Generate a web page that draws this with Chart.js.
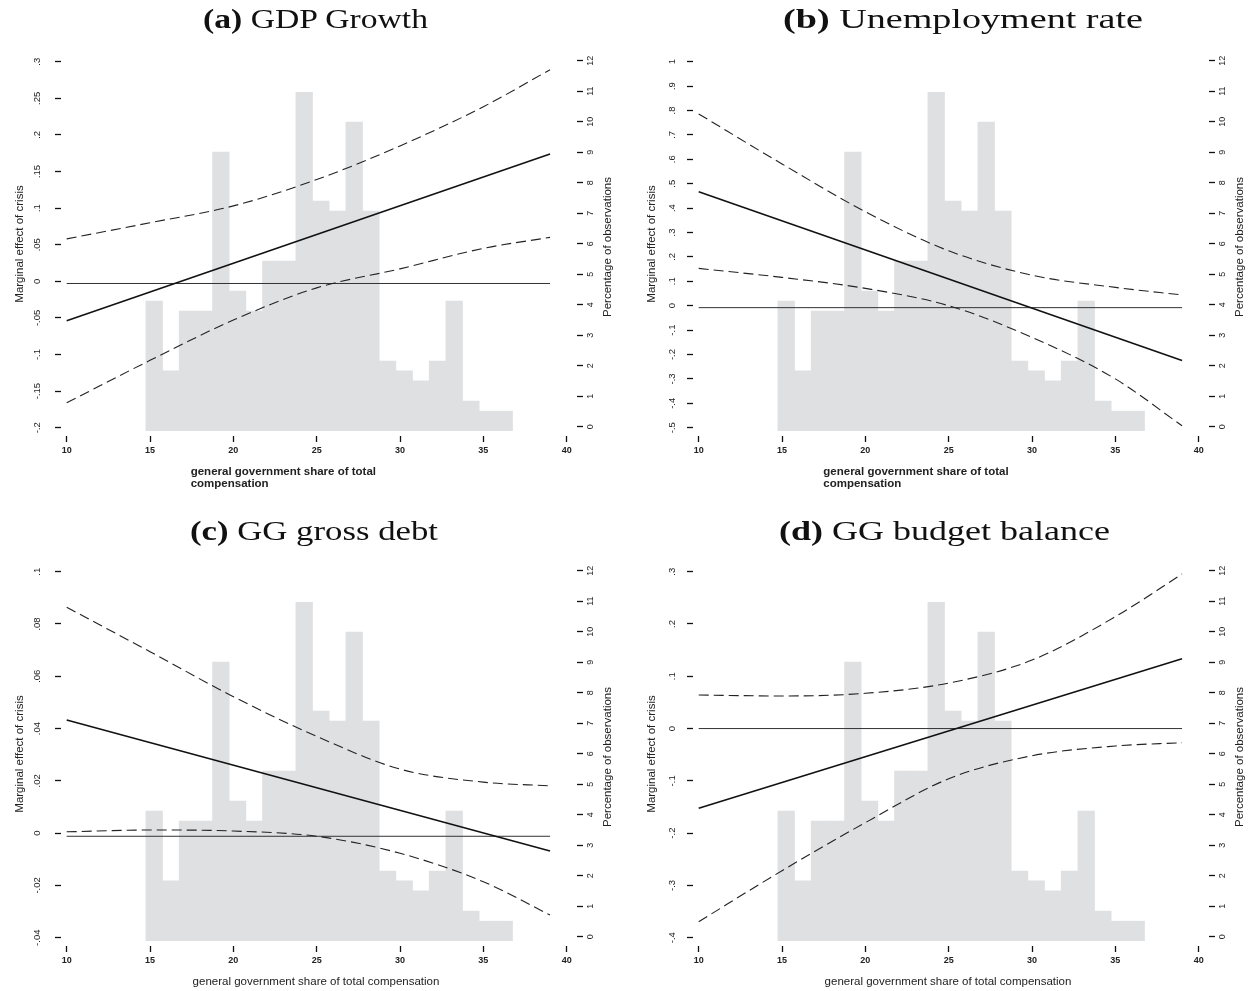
<!DOCTYPE html>
<html>
<head>
<meta charset="utf-8">
<script src="https://cdn.jsdelivr.net/npm/chart.js@4.4.1/dist/chart.umd.min.js"></script>
<style>
  html, body { margin: 0; padding: 0; background: #fff; }
  body { width: 1256px; height: 991px; position: relative; overflow: hidden; }
  canvas { position: absolute; }
  .ptitle { position: absolute; font-family: "Liberation Serif", "Times New Roman", serif; font-size: 27px; line-height: 27px; color: #111; white-space: nowrap; transform-origin: 0 0; }
  .xt { position: absolute; font-family: "Liberation Sans", Arial, sans-serif; font-size: 11.5px; font-weight: bold; line-height: 12.3px; color: #222; white-space: nowrap; }
  .rt { position: absolute; font-family: "Liberation Sans", Arial, sans-serif; font-size: 11.5px; line-height: 14px; color: #222; white-space: nowrap; transform: translate(-50%, -50%) rotate(-90deg); }
</style>
</head>
<body>
<canvas id="cA" width="628" height="481" style="left:0px;top:0px"></canvas>
<canvas id="cB" width="624" height="481" style="left:632px;top:0px"></canvas>
<canvas id="cC" width="628" height="481" style="left:0px;top:510px"></canvas>
<canvas id="cD" width="624" height="481" style="left:632px;top:510px"></canvas>

<div class="ptitle" data-w="225" style="left:203px;top:6px"><b>(a)</b> GDP Growth</div>
<div class="ptitle" data-w="360" style="left:783px;top:6px"><b>(b)</b> Unemployment rate</div>
<div class="ptitle" data-w="248" style="left:190px;top:518px"><b>(c)</b> GG gross debt</div>
<div class="ptitle" data-w="331" style="left:779px;top:518px"><b>(d)</b> GG budget balance</div>

<div class="xt" style="left:190.7px;top:464.9px">general government share of total<br>compensation</div>
<div class="xt" style="left:823.3px;top:464.9px">general government share of total<br>compensation</div>

<div class="rt" style="left:607px;top:247px">Percentage of observations</div>
<div class="rt" style="left:1239px;top:247px">Percentage of observations</div>
<div class="rt" style="left:607px;top:757px">Percentage of observations</div>
<div class="rt" style="left:1239px;top:757px">Percentage of observations</div>

<script>
// ---------- shared data ----------
const binCenters = [15.25, 16.25, 17.25, 18.25, 19.25, 20.25, 21.25, 22.25, 23.25, 24.25, 25.25,
                    26.25, 27.25, 28.25, 29.25, 30.25, 31.25, 32.25, 33.25, 34.25, 35.25, 36.25];
const pctObs = [4.12, 1.83, 3.79, 3.79, 9.0, 4.45, 3.79, 5.43, 5.43, 10.96, 7.4,
                7.07, 9.99, 7.07, 2.15, 1.83, 1.5, 2.15, 4.12, 0.84, 0.51, 0.51];
const xTickLabels = ['10', '15', '20', '25', '30', '35', '40'];
const pctTickLabels = ['0', '1', '2', '3', '4', '5', '6', '7', '8', '9', '10', '11', '12'];
const ciX = [10, 15, 20, 25, 30, 35, 39];
const lineX = [10, 39];

// ---------- (a) GDP Growth ----------
const gdpTicks = ['-.2', '-.15', '-.1', '-.05', '0', '.05', '.1', '.15', '.2', '.25', '.3'];
const gdpEffect = [-0.054, 0.174];
const gdpUpper = [0.058, 0.080, 0.103, 0.139, 0.185, 0.2385, 0.289];
const gdpLower = [-0.166, -0.108, -0.053, -0.009, 0.017, 0.045, 0.060];
const gdpZero = [-0.003, -0.003];

// ---------- (b) Unemployment rate ----------
const unTicks = ['-.5', '-.4', '-.3', '-.2', '-.1', '0', '.1', '.2', '.3', '.4', '.5', '.6', '.7', '.8', '.9', '1'];
const unEffect = [0.467, -0.225];
const unUpper = [0.786, 0.581, 0.385, 0.225, 0.125, 0.075, 0.044];
const unLower = [0.153, 0.116, 0.071, 0.000, -0.130, -0.300, -0.492];
const unZero = [-0.008, -0.008];

// ---------- (c) GG gross debt ----------
const debtTicks = ['-.04', '-.02', '0', '.02', '.04', '.06', '.08', '.1'];
const debtEffect = [0.0433, -0.0068];
const debtUpper = [0.0864, 0.0694, 0.0522, 0.037, 0.0245, 0.0195, 0.0181];
const debtLower = [0.0005, 0.0012, 0.0008, -0.0012, -0.0077, -0.0186, -0.0313];
const debtZero = [-0.0012, -0.0012];

// ---------- (d) GG budget balance ----------
const balTicks = ['-.4', '-.3', '-.2', '-.1', '0', '.1', '.2', '.3'];
const balEffect = [-0.1526, 0.1336];
const balUpper = [0.0642, 0.0623, 0.0674, 0.087, 0.131, 0.214, 0.2956];
const balLower = [-0.3694, -0.2718, -0.180, -0.096, -0.052, -0.0334, -0.027];
const balZero = [0, 0];

const FONT = '"Liberation Sans", Arial, Helvetica, sans-serif';
const TXT = '#222';
const pts = (xs, ys) => xs.map((x, i) => ({ x: x, y: ys[i] }));

function makePanel(id, ticks, effect, upper, lower, zero, bottomTitle) {
  const cv = document.getElementById(id);
  const W = cv.width, H = cv.height;
  const L = 61, R = 571, T = 57, B = 431;
  const tv = ticks.map(parseFloat);
  const lo = Math.min.apply(null, tv), hi = Math.max.apply(null, tv), span = hi - lo;
  const yMin = lo - span * 3.3 / 366, yMax = hi + span * 4.7 / 366;
  const pv = pctTickLabels.map(parseFloat);
  const pMin = -12 * 4.3 / 366, pMax = 12 + 12 * 3.7 / 366;
  const xv = xTickLabels.map(parseFloat);
  const xMin = 10 - 5.7 / 16.667, xMax = 40 + 4.3 / 16.667;

  const tickGrid = (len, dash) => ({
    drawOnChartArea: false, offset: false, tickLength: len, tickColor: '#111', tickWidth: 1.3,
    tickBorderDash: dash, tickBorderDashOffset: dash[0]
  });

  new Chart(cv, {
    type: 'bar',
    data: {
      datasets: [
        { type: 'line', data: pts(lineX, effect), borderColor: '#111', borderWidth: 1.6, pointRadius: 0, yAxisID: 'y', xAxisID: 'x', order: 0 },
        { type: 'line', data: pts(ciX, upper), borderColor: '#222', borderWidth: 1.1, borderDash: [10, 5], pointRadius: 0, cubicInterpolationMode: 'monotone', yAxisID: 'y', xAxisID: 'x', order: 0 },
        { type: 'line', data: pts(ciX, lower), borderColor: '#222', borderWidth: 1.1, borderDash: [10, 5], pointRadius: 0, cubicInterpolationMode: 'monotone', yAxisID: 'y', xAxisID: 'x', order: 0 },
        { type: 'line', data: pts(lineX, zero), borderColor: '#333', borderWidth: 1, pointRadius: 0, yAxisID: 'y', xAxisID: 'x', order: 1 },
        { type: 'bar', data: pts(binCenters, pctObs), backgroundColor: 'rgb(223,224,226)', borderWidth: 0,
          barPercentage: 1, categoryPercentage: 1, base: pMin, yAxisID: 'y2', xAxisID: 'x', order: 2 }
      ]
    },
    options: {
      responsive: false, animation: false, devicePixelRatio: 1,
      layout: { padding: { top: T, left: 0, right: 0, bottom: 0 } },
      plugins: { legend: { display: false }, tooltip: { enabled: false } },
      scales: {
        x: {
          type: 'linear', position: 'bottom', min: xMin, max: xMax, offset: false,
          grid: tickGrid(11, [6, 5]), border: { display: false },
          afterBuildTicks: s => { s.ticks = xv.map(v => ({ value: v })); },
          ticks: { autoSkip: false, minRotation: 0, maxRotation: 0, padding: 3.3, color: TXT,
                   font: { family: FONT, size: 9, weight: 'bold' }, callback: (v, i) => xTickLabels[i] },
          title: { display: bottomTitle, text: 'general government share of total compensation', color: TXT,
                   font: { family: FONT, size: 11.5 }, padding: { top: 0, bottom: 2.4 } },
          afterFit: s => { s.height = H - B; }
        },
        y: {
          type: 'linear', position: 'left', min: yMin, max: yMax,
          grid: tickGrid(12, [6, 6]), border: { display: false },
          afterBuildTicks: s => { s.ticks = tv.map(v => ({ value: v })); },
          ticks: { autoSkip: false, minRotation: 90, maxRotation: 90, crossAlign: 'center', padding: 3, color: TXT,
                   font: { family: FONT, size: 9.5 }, callback: (v, i) => ticks[i] },
          title: { display: true, text: 'Marginal effect of crisis', color: TXT,
                   font: { family: FONT, size: 11.5 }, padding: { top: 13.1, bottom: 0 } },
          afterFit: s => { s.width = L; }
        },
        y2: {
          type: 'linear', position: 'right', min: pMin, max: pMax,
          grid: tickGrid(12, [6, 6]), border: { display: false },
          afterBuildTicks: s => { s.ticks = pv.map(v => ({ value: v })); },
          ticks: { autoSkip: false, minRotation: 90, maxRotation: 90, crossAlign: 'center', padding: 3, color: TXT,
                   font: { family: FONT, size: 9 }, callback: (v, i) => pctTickLabels[i] },
          afterFit: s => { s.width = W - R; }
        }
      }
    }
  });
}

makePanel('cA', gdpTicks, gdpEffect, gdpUpper, gdpLower, gdpZero, false);
makePanel('cB', unTicks, unEffect, unUpper, unLower, unZero, false);
makePanel('cC', debtTicks, debtEffect, debtUpper, debtLower, debtZero, true);
makePanel('cD', balTicks, balEffect, balUpper, balLower, balZero, true);

document.querySelectorAll('.ptitle').forEach(el => {
  const target = parseFloat(el.dataset.w);
  const w = el.getBoundingClientRect().width;
  if (w > 0) el.style.transform = 'scaleX(' + (target / w) + ')';
});
</script>
</body>
</html>
